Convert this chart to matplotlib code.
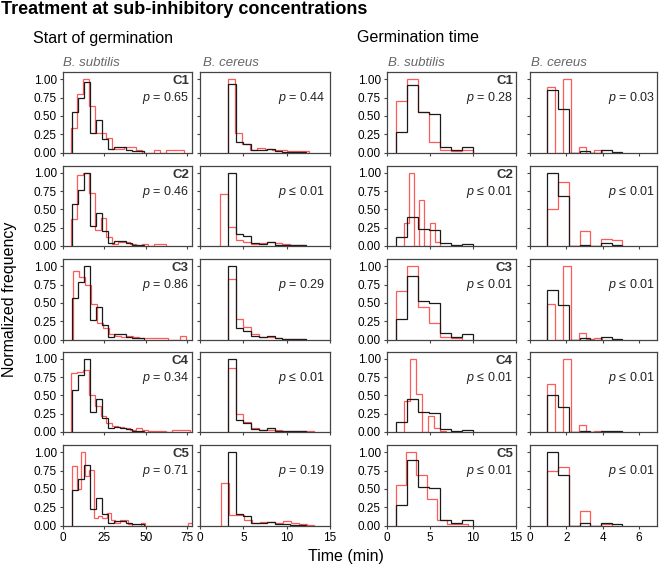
import numpy as np
import matplotlib
matplotlib.use('Agg')
import matplotlib.pyplot as plt

plt.rcParams['font.family'] = ['Liberation Sans', 'DejaVu Sans']
plt.rcParams['mathtext.fontset'] = 'custom'
plt.rcParams['mathtext.rm'] = 'Liberation Sans'
plt.rcParams['mathtext.it'] = 'Liberation Sans:italic'

# condition labels
conditions = ['C1', 'C2', 'C3', 'C4', 'C5']

# start of germination, B. subtilis (min): (first edge, bin width) and normalized heights
start_bs_black_bins = (5.5, 3.6)
start_bs_black = [
    [0.55, 0.75, 0.97, 0.27, 0.44, 0.19, 0.05, 0.07, 0.07, 0.04, 0.02, 0.02],
    [0.57, 0.77, 1.00, 0.27, 0.45, 0.20, 0.04, 0.07, 0.07, 0.04, 0.02, 0.02],
    [0.57, 0.78, 1.00, 0.27, 0.45, 0.20, 0.04, 0.07, 0.07, 0.04, 0.02, 0.02],
    [0.57, 0.78, 1.00, 0.27, 0.45, 0.19, 0.05, 0.07, 0.06, 0.04, 0.02, 0.02],
    [0.48, 0.64, 0.83, 0.23, 0.37, 0.16, 0.04, 0.06, 0.06, 0.03, 0.02, 0.02],
]
start_bs_red_bins = [(4.7, 3.6), (4.7, 3.6), (6.1, 3.6), (4.7, 3.6), (5.6, 2.6)]
start_bs_red = [
    [0.33, 0.80, 1.00, 0.64, 0.27, 0.26, 0.20, 0.05, 0.05, 0.08, 0.07, 0.03,
     0.00, 0.00, 0.03, 0.00, 0.03, 0.03, 0.03],
    [0.37, 0.97, 1.00, 0.73, 0.22, 0.38, 0.12, 0.03, 0.05, 0.05, 0.03, 0.00,
     0.03, 0.00, 0.03, 0.03],
    [0.93, 0.85, 0.75, 0.48, 0.22, 0.16, 0.07, 0.05, 0.03, 0.05, 0.03, 0.02,
     0.02, 0.02, 0.02, 0.02, 0.00, 0.00, 0.05],
    [0.80, 0.82, 0.85, 0.50, 0.35, 0.22, 0.12, 0.08, 0.07, 0.05, 0.03, 0.05,
     0.03, 0.02, 0.02, 0.02, 0.00, 0.03, 0.03, 0.03],
    [0.81, 0.50, 1.00, 0.67, 0.76, 0.10, 0.13, 0.10, 0.17, 0.08, 0.03, 0.08,
     0.08, 0.02, 0.00, 0.00, 0.03, 0.00, 0.00, 0.00, 0.00, 0.00, 0.00, 0.00,
     0.00, 0.00, 0.00, 0.03],
]
start_bs_p = ['= 0.65', '= 0.46', '= 0.86', '= 0.34', '= 0.71']

# start of germination, B. cereus
start_bc_black_bins = (3.2, 0.9)
start_bc_black = [
    [0.93, 0.15, 0.12, 0.04, 0.03, 0.05, 0.02, 0.01, 0.01, 0.01],
    [1.00, 0.16, 0.13, 0.04, 0.03, 0.05, 0.02, 0.01, 0.01, 0.01],
    [1.00, 0.16, 0.12, 0.05, 0.03, 0.05, 0.02, 0.01, 0.01, 0.01],
    [1.00, 0.16, 0.12, 0.04, 0.03, 0.05, 0.02, 0.01, 0.01, 0.01],
    [1.00, 0.16, 0.13, 0.04, 0.03, 0.05, 0.02, 0.02, 0.01, 0.01],
]
start_bc_red_bins = [(3.2, 0.85), (2.3, 0.9), (3.2, 0.9), (3.2, 0.9), (2.4, 0.9)]
start_bc_red = [
    [1.00, 0.27, 0.12, 0.03, 0.06, 0.05, 0.03, 0.04, 0.02, 0.02, 0.02],
    [0.71, 0.26, 0.08, 0.05, 0.03, 0.04, 0.05, 0.04, 0.03, 0.02, 0.02],
    [0.82, 0.28, 0.17, 0.08, 0.04, 0.03, 0.02, 0.01, 0.01, 0.01],
    [0.88, 0.25, 0.13, 0.05, 0.03, 0.03, 0.03, 0.02, 0.01, 0.01, 0.01],
    [0.58, 0.14, 0.14, 0.07, 0.04, 0.05, 0.05, 0.04, 0.06, 0.03, 0.02, 0.01],
]
start_bc_p = ['= 0.44', '\u2264 0.01', '= 0.29', '\u2264 0.01', '= 0.19']

# germination time, B. subtilis
time_bs_black_bins = (1.05, 1.28)
time_bs_black = [
    [0.28, 0.92, 0.55, 0.52, 0.08, 0.04, 0.07],
    [0.12, 0.39, 0.23, 0.22, 0.04, 0.02, 0.03],
    [0.28, 0.87, 0.52, 0.50, 0.09, 0.04, 0.07],
    [0.13, 0.45, 0.27, 0.26, 0.04, 0.02, 0.03],
    [0.28, 0.89, 0.52, 0.51, 0.08, 0.04, 0.07],
]
time_bs_red_bins = [(1.05, 1.28), (1.95, 0.6), (1.05, 1.28), (2.0, 0.7), (1.0, 1.2)]
time_bs_red = [
    [0.71, 1.00, 0.55, 0.14, 0.03, 0.02, 0.03],
    [0.31, 1.00, 0.00, 0.63, 0.00, 0.32, 0.06],
    [0.66, 1.00, 0.44, 0.23, 0.03, 0.02],
    [0.42, 1.00, 0.52, 0.00, 0.22, 0.05, 0.02],
    [0.56, 1.00, 0.69, 0.36, 0.08, 0.02, 0.02],
]
time_bs_p = ['= 0.28', '\u2264 0.01', '\u2264 0.01', '\u2264 0.01', '\u2264 0.01']

# germination time, B. cereus
time_bc_black_bins = (0.96, 0.59)
time_bc_black = [
    [0.85, 0.59, 0.00, 0.02, 0.00, 0.03, 0.01],
    [1.00, 0.69, 0.00, 0.02, 0.00, 0.04, 0.02],
    [0.68, 0.47, 0.00, 0.02, 0.00, 0.03, 0.01],
    [0.50, 0.34, 0.00, 0.01, 0.00, 0.02, 0.01],
    [1.00, 0.69, 0.00, 0.03, 0.00, 0.04, 0.02],
]
time_bc_red_bins = [(0.96, 0.43), (0.96, 0.59), (0.96, 0.43), (0.96, 0.43), (0.96, 0.59)]
time_bc_red = [
    [0.89, 0.00, 1.00, 0.00, 0.07, 0.00, 0.04],
    [0.51, 0.87, 0.00, 0.21, 0.00, 0.09, 0.08],
    [0.49, 0.00, 1.00, 0.00, 0.09, 0.01, 0.02],
    [0.65, 0.00, 1.00, 0.00, 0.10, 0.00, 0.01],
    [0.75, 0.80, 0.00, 0.20, 0.00, 0.02],
]
time_bc_p = ['= 0.03', '\u2264 0.01', '\u2264 0.01', '\u2264 0.01', '\u2264 0.01']

# x axis settings per column
xlims = [(0, 78), (0, 15), (0, 15), (0, 7)]
xticks = [[0, 25, 50, 75], [0, 5, 10, 15], [0, 5, 10, 15], [0, 2, 4, 6]]

columns = [
    (start_bs_black_bins, start_bs_black, start_bs_red_bins, start_bs_red, start_bs_p),
    (start_bc_black_bins, start_bc_black, start_bc_red_bins, start_bc_red, start_bc_p),
    (time_bs_black_bins, time_bs_black, time_bs_red_bins, time_bs_red, time_bs_p),
    (time_bc_black_bins, time_bc_black, time_bc_red_bins, time_bc_red, time_bc_p),
]

W, H = 660, 569
RED = '#ff5a5a'
BLACK = '#1a1a1a'
SPINE = '#444444'


def edges(bins, n):
    first, width = bins
    return first + width * np.arange(n + 1)


fig = plt.figure(figsize=(W / 100, H / 100), dpi=100)

col_px = [(63, 192), (200, 330), (387, 516), (530, 657)]
p_offset = [-3, -5, -3, -2]
row_top = [72, 165.5, 259, 351.5, 445]
row_h = 80.5

for c, (bbins, bvals, rbins, rvals, pvals) in enumerate(columns):
    x0, x1 = col_px[c]
    for r in range(5):
        top = row_top[r]
        ax = fig.add_axes([x0 / W, 1 - (top + row_h) / H, (x1 - x0) / W, row_h / H])
        ax.stairs(rvals[r], edges(rbins[r], len(rvals[r])), color=RED, lw=0.9, baseline=0)
        ax.stairs(bvals[r], edges(bbins, len(bvals[r])), color=BLACK, lw=0.9, baseline=0)
        ax.set_xlim(*xlims[c])
        ax.set_ylim(0, 1.1)
        ax.set_xticks(xticks[c])
        ax.set_yticks([0, 0.25, 0.5, 0.75, 1.0])
        ax.tick_params(direction='out', length=2.5, width=0.8, color=SPINE,
                       labelsize=8.5, pad=2)
        for s in ax.spines.values():
            s.set_color(SPINE)
            s.set_linewidth(0.9)
        if c in (0, 2):
            ax.set_yticklabels(['0.00', '0.25', '0.50', '0.75', '1.00'])
            ax.annotate(conditions[r], xy=(1, 1), xycoords='axes fraction',
                        xytext=(-3, -9), textcoords='offset pixels',
                        ha='right', va='center', fontsize=9.5, fontweight='bold',
                        color='#333333')
        else:
            ax.set_yticklabels([])
        if r < 4:
            ax.set_xticklabels([])
        ax.annotate(r'$p$ ' + pvals[r], xy=(1, 1), xycoords='axes fraction',
                    xytext=(p_offset[c], -26), textcoords='offset pixels',
                    ha='right', va='center', fontsize=9, color='#222222')


def ftext(x, y, s, **kw):
    fig.text(x / W, 1 - y / H, s, **kw)


ftext(1, 9, 'Treatment at sub-inhibitory concentrations', fontsize=13,
      fontweight='bold', va='center', ha='left')
ftext(33, 38, 'Start of germination', fontsize=11.5, va='center', ha='left')
ftext(357, 38, 'Germination time', fontsize=11.5, va='center', ha='left')
for xx, name in [(63, 'B. subtilis'), (203, 'B. cereus'),
                 (388, 'B. subtilis'), (531, 'B. cereus')]:
    ftext(xx, 63, name, fontsize=9.5, style='italic', color='#666666',
          va='center', ha='left')
ftext(10, 299, 'Normalized frequency', fontsize=11.5, rotation=90,
      va='center', ha='center')
ftext(346, 556, 'Time (min)', fontsize=11.5, va='center', ha='center')

fig.savefig('out.png', dpi=100)
